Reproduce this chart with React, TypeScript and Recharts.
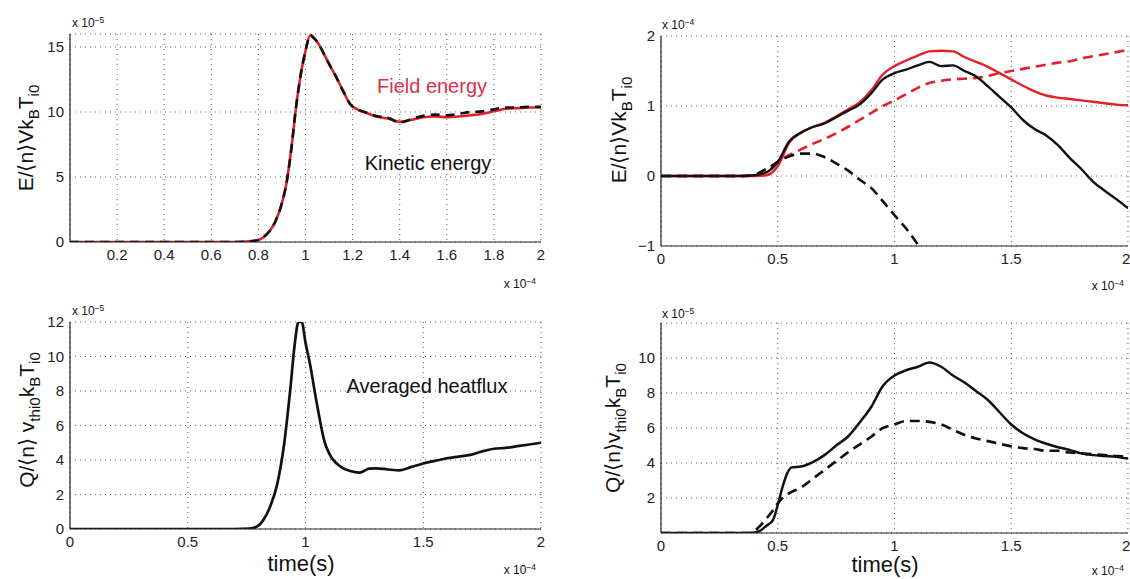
import React from "react";
import { LineChart, Line, XAxis, YAxis, CartesianGrid } from "recharts";

const FONT = '"Liberation Sans", Arial, Helvetica, sans-serif';
const RED = "#e3202a";
const INK = "#111";

// top-left: energies (x 1e-4 s, y 1e-5)
const timeA = [0, 0.1, 0.2, 0.3, 0.4, 0.5, 0.6, 0.7, 0.75, 0.8, 0.82, 0.85, 0.87, 0.9, 0.92, 0.94, 0.96, 0.98, 1.0, 1.02, 1.04, 1.06, 1.08, 1.1, 1.13, 1.16, 1.19, 1.22, 1.25, 1.3, 1.35, 1.4, 1.45, 1.5, 1.55, 1.6, 1.65, 1.7, 1.75, 1.8, 1.85, 1.9, 1.95, 2.0];
const fieldA = [0, 0, 0, 0, 0, 0, 0, 0, 0.03, 0.15, 0.35, 0.9, 1.5, 3.0, 4.6, 7.2, 10.4, 12.9, 14.7, 15.9, 15.6, 15.1, 14.4, 13.7, 12.7, 11.6, 10.6, 10.2, 10.0, 9.65, 9.5, 9.25, 9.4, 9.6, 9.65, 9.6, 9.65, 9.75, 9.85, 10.05, 10.25, 10.3, 10.35, 10.35];
const kineticA = [0, 0, 0, 0, 0, 0, 0, 0, 0.03, 0.15, 0.35, 0.9, 1.5, 3.0, 4.6, 7.2, 10.4, 12.9, 14.7, 15.9, 15.6, 15.1, 14.4, 13.7, 12.7, 11.6, 10.6, 10.2, 10.0, 9.7, 9.55, 9.2, 9.45, 9.7, 9.8, 9.75, 9.85, 10.0, 10.05, 10.2, 10.35, 10.35, 10.4, 10.4];

// top-right: energies (x 1e-4 s, y 1e-4)
const timeB = [0, 0.1, 0.2, 0.3, 0.35, 0.4, 0.45, 0.5, 0.55, 0.6, 0.65, 0.7, 0.75, 0.8, 0.85, 0.9, 0.95, 1.0, 1.05, 1.1, 1.15, 1.2, 1.25, 1.3, 1.35, 1.4, 1.45, 1.5, 1.55, 1.6, 1.65, 1.7, 1.75, 1.8, 1.85, 1.9, 1.95, 2.0];
const redSolidB = [0, 0, 0, 0, 0, 0, 0.01, 0.14, 0.48, 0.62, 0.7, 0.76, 0.85, 0.95, 1.05, 1.22, 1.45, 1.57, 1.65, 1.72, 1.78, 1.79, 1.78, 1.7, 1.63, 1.56, 1.47, 1.38, 1.29, 1.21, 1.15, 1.12, 1.1, 1.08, 1.06, 1.04, 1.02, 1.01];
const blackSolidB = [0, 0, 0, 0, 0, 0.01, 0.05, 0.2, 0.5, 0.62, 0.7, 0.75, 0.84, 0.93, 1.02, 1.18, 1.38, 1.47, 1.52, 1.58, 1.63, 1.57, 1.58, 1.5, 1.42, 1.28, 1.13, 0.98, 0.8, 0.67, 0.58, 0.44, 0.26, 0.1, -0.08, -0.21, -0.33, -0.46];
const redDashB = [0, 0, 0, 0, 0, 0.01, 0.06, 0.2, 0.3, 0.38, 0.46, 0.53, 0.61, 0.7, 0.8, 0.9, 1.0, 1.08, 1.17, 1.26, 1.33, 1.36, 1.38, 1.39, 1.4, 1.43, 1.47, 1.5, 1.53, 1.56, 1.59, 1.62, 1.64, 1.68, 1.71, 1.74, 1.77, 1.8];
const blackDashB = [0, 0, 0, 0, 0, 0.02, 0.1, 0.2, 0.28, 0.32, 0.32, 0.27, 0.18, 0.08, -0.05, -0.17, -0.36, -0.56, -0.75, -0.98, null, null, null, null, null, null, null, null, null, null, null, null, null, null, null, null, null, null];

// bottom-left: averaged heat flux (y 1e-5)
const timeC = [0, 0.1, 0.2, 0.3, 0.4, 0.5, 0.6, 0.7, 0.76, 0.8, 0.82, 0.85, 0.88, 0.91, 0.934, 0.955, 0.97, 0.984, 1.0, 1.02, 1.04, 1.06, 1.08, 1.1, 1.15, 1.19, 1.23, 1.27, 1.3, 1.35, 1.4, 1.45, 1.5, 1.55, 1.6, 1.65, 1.7, 1.75, 1.8, 1.85, 1.9, 1.95, 2.0];
const fluxC = [0, 0, 0, 0, 0, 0, 0, 0, 0.02, 0.2, 0.5, 1.3, 2.6, 5.0, 7.9, 10.8, 12, 12, 10.8, 9.5, 7.9, 6.4, 5.1, 4.4, 3.6, 3.36, 3.27, 3.5, 3.52, 3.45, 3.4, 3.6, 3.8, 3.95, 4.1, 4.2, 4.3, 4.5, 4.65, 4.7, 4.8, 4.9, 5.0];

// bottom-right: heat flux, two runs (y 1e-5)
const timeD = [0, 0.1, 0.2, 0.3, 0.38, 0.42, 0.45, 0.48, 0.5, 0.52, 0.54, 0.56, 0.6, 0.65, 0.7, 0.75, 0.8, 0.85, 0.9, 0.95, 1.0, 1.05, 1.1, 1.15, 1.2, 1.25, 1.3, 1.35, 1.4, 1.45, 1.5, 1.55, 1.6, 1.65, 1.7, 1.75, 1.8, 1.85, 1.9, 1.95, 2.0];
const solidD = [0, 0, 0, 0, 0, 0.1, 0.4, 0.75, 1.6, 2.6, 3.4, 3.75, 3.8, 4.05, 4.45, 5.0, 5.5, 6.3, 7.2, 8.4, 9.0, 9.3, 9.5, 9.75, 9.5, 9.0, 8.6, 8.1, 7.6, 6.9, 6.2, 5.7, 5.35, 5.1, 4.9, 4.75, 4.55, 4.45, 4.4, 4.35, 4.25];
const dashD = [0, 0, 0, 0, 0, 0.35, 0.8, 1.3, 1.7, 2.0, 2.2, 2.35, 2.6, 3.1, 3.6, 4.1, 4.6, 5.05, 5.5, 6.0, 6.2, 6.4, 6.4, 6.35, 6.2, 5.9, 5.6, 5.4, 5.25, 5.1, 4.95, 4.85, 4.8, 4.7, 4.7, 4.6, 4.55, 4.5, 4.45, 4.4, 4.35];

const rowsA = timeA.map((t, i) => ({ t, field: fieldA[i], kin: kineticA[i] }));
const rowsB = timeB.map((t, i) => ({ t, rs: redSolidB[i], bs: blackSolidB[i], rd: redDashB[i], bd: blackDashB[i] }));
const rowsC = timeC.map((t, i) => ({ t, q: fluxC[i] }));
const rowsD = timeD.map((t, i) => ({ t, s: solidD[i], d: dashD[i] }));

const fmt = (v: number) => (v < 0 ? `\u2212${Math.abs(v)}` : String(v));
const tickStyle = { fontFamily: FONT, fontSize: 15, fill: "#222" };
const frameLine = { stroke: "#222", strokeWidth: 1.2 };

type Box = { l: number; t: number; r: number; b: number };

function Panel({ frame, box, data, yDomain, xTicks, yTicks, children }: any) {
  const [cl, ct, cw, ch] = frame;
  const b: Box = box;
  const xH = 30;
  const margin = { top: b.t - ct, right: cl + cw - b.r, left: 0, bottom: ct + ch - b.b - xH };
  return (
    <div style={{ position: "absolute", left: cl, top: ct }}>
      <LineChart width={cw} height={ch} data={data} margin={margin} style={{ overflow: "visible" }}>
        <CartesianGrid stroke="#666" strokeWidth={1.1} strokeDasharray="1 4" />
        <XAxis dataKey="t" type="number" domain={[0, 2]} ticks={xTicks} allowDataOverflow tickFormatter={fmt}
          height={xH} tick={tickStyle} axisLine={frameLine} tickLine={false} tickSize={5} tickMargin={2} />
        <XAxis xAxisId="top" orientation="top" dataKey="t" type="number" domain={[0, 2]} height={0}
          tick={false} tickLine={false} axisLine={frameLine} />
        <YAxis type="number" domain={yDomain} ticks={yTicks} allowDataOverflow tickFormatter={fmt}
          width={b.l - cl} tick={tickStyle} axisLine={frameLine} tickLine={false} tickSize={4} tickMargin={2} />
        <YAxis yAxisId="right" orientation="right" type="number" domain={yDomain} width={0}
          tick={false} tickLine={false} axisLine={frameLine} />
        {children}
      </LineChart>
    </div>
  );
}

function Abs({ x, y, size, color = INK, rotate = false, align = "center", children }: any) {
  const tx = align === "left" ? "0" : align === "right" ? "-100%" : "-50%";
  return (
    <div
      style={{
        position: "absolute", left: x, top: y, whiteSpace: "nowrap", fontFamily: FONT, fontSize: size,
        color, lineHeight: 1,
        transform: rotate ? "translate(-50%,-50%) rotate(-90deg)" : `translate(${tx},-50%)`,
      }}
    >
      {children}
    </div>
  );
}

const Sub = ({ children }: any) => <span style={{ fontSize: "0.72em", verticalAlign: "-0.4em" }}>{children}</span>;
const Exp = ({ p }: { p: string }) => (
  <span>x 10<span style={{ fontSize: "0.7em", verticalAlign: "0.55em" }}>{p}</span></span>
);

export default function App() {
  return (
    <div style={{ position: "absolute", left: 0, top: 0, width: 1130, height: 579, background: "#fff", overflow: "hidden" }}>
      <Panel frame={[0, 0, 565, 290]} box={{ l: 70, t: 34, r: 541, b: 242 }} data={rowsA}
        yDomain={[0, 16]} yTicks={[0, 5, 10, 15]} xTicks={[0.2, 0.4, 0.6, 0.8, 1, 1.2, 1.4, 1.6, 1.8, 2]}>
        <Line dataKey="field" type="monotone" stroke={RED} strokeWidth={2.6} dot={false} isAnimationActive={false} />
        <Line dataKey="kin" type="monotone" stroke={INK} strokeWidth={2.6} strokeDasharray="9 6" dot={false} isAnimationActive={false} />
      </Panel>

      <Panel frame={[565, 0, 565, 290]} box={{ l: 661, t: 36, r: 1128, b: 246 }} data={rowsB}
        yDomain={[-1, 2]} yTicks={[-1, 0, 1, 2]} xTicks={[0, 0.5, 1, 1.5, 2]}>
        <Line dataKey="rd" type="monotone" stroke={RED} strokeWidth={2.6} strokeDasharray="10 6" dot={false} isAnimationActive={false} />
        <Line dataKey="bd" type="monotone" stroke={INK} strokeWidth={2.6} strokeDasharray="10 6" dot={false} isAnimationActive={false} />
        <Line dataKey="rs" type="monotone" stroke={RED} strokeWidth={2.4} dot={false} isAnimationActive={false} />
        <Line dataKey="bs" type="monotone" stroke={INK} strokeWidth={2.4} dot={false} isAnimationActive={false} />
      </Panel>

      <Panel frame={[0, 290, 565, 289]} box={{ l: 70, t: 322, r: 541, b: 529 }} data={rowsC}
        yDomain={[0, 12]} yTicks={[0, 2, 4, 6, 8, 10, 12]} xTicks={[0, 0.5, 1, 1.5, 2]}>
        <Line dataKey="q" type="monotone" stroke={INK} strokeWidth={2.7} dot={false} isAnimationActive={false} />
      </Panel>

      <Panel frame={[565, 290, 565, 289]} box={{ l: 661, t: 323, r: 1128, b: 533 }} data={rowsD}
        yDomain={[0, 12]} yTicks={[2, 4, 6, 8, 10]} xTicks={[0, 0.5, 1, 1.5, 2]}>
        <Line dataKey="d" type="monotone" stroke={INK} strokeWidth={2.7} strokeDasharray="10 6" dot={false} isAnimationActive={false} />
        <Line dataKey="s" type="monotone" stroke={INK} strokeWidth={2.5} dot={false} isAnimationActive={false} />
      </Panel>

      {/* exponent labels */}
      <Abs x={72} y={22} size={12} align="left"><Exp p="−5" /></Abs>
      <Abs x={536} y={283} size={12} align="right"><Exp p="−4" /></Abs>
      <Abs x={662} y={24} size={12} align="left"><Exp p="−4" /></Abs>
      <Abs x={1124} y={285} size={12} align="right"><Exp p="−4" /></Abs>
      <Abs x={72} y={310} size={12} align="left"><Exp p="−5" /></Abs>
      <Abs x={536} y={569} size={12} align="right"><Exp p="−4" /></Abs>
      <Abs x={662} y={313} size={12} align="left"><Exp p="−5" /></Abs>
      <Abs x={1124} y={570} size={12} align="right"><Exp p="−4" /></Abs>

      {/* axis titles */}
      <Abs x={28} y={138} size={21} rotate>E/⟨n⟩Vk<Sub>B</Sub>T<Sub>i0</Sub></Abs>
      <Abs x={621} y={130} size={21} rotate>E/⟨n⟩Vk<Sub>B</Sub>T<Sub>i0</Sub></Abs>
      <Abs x={29} y={420} size={21} rotate>Q/⟨n⟩ v<Sub>thi0</Sub>k<Sub>B</Sub>T<Sub>i0</Sub></Abs>
      <Abs x={615} y={428} size={21} rotate>Q/⟨n⟩v<Sub>thi0</Sub>k<Sub>B</Sub>T<Sub>i0</Sub></Abs>
      <Abs x={301} y={564} size={22}>time(s)</Abs>
      <Abs x={885} y={565} size={22}>time(s)</Abs>

      {/* annotations */}
      <Abs x={432} y={86} size={20} color="#e0304a">Field energy</Abs>
      <Abs x={428} y={163} size={20}>Kinetic energy</Abs>
      <Abs x={427} y={386} size={20}>Averaged heatflux</Abs>
    </div>
  );
}
